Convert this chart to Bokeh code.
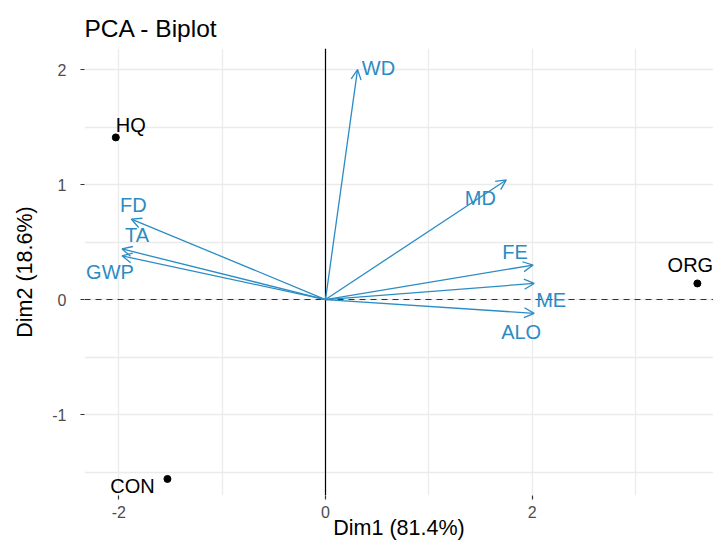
from bokeh.plotting import figure
from bokeh.models import ColumnDataSource, Arrow, OpenHead, Span, FixedTicker, Range1d
from bokeh.embed import file_html
from bokeh.resources import INLINE
from bokeh.core.properties import value

# ---- data ----
ind_names = ["HQ", "CON", "ORG"]
ind_dim1 = [-2.03, -1.53, 3.60]
ind_dim2 = [1.41, -1.56, 0.14]

var_names = ["WD", "MD", "FE", "ME", "ALO", "FD", "TA", "GWP"]
var_dim1 = [0.31, 1.75, 2.01, 2.02, 2.02, -1.88, -1.97, -1.97]
var_dim2 = [2.00, 1.04, 0.30, 0.14, -0.12, 0.70, 0.44, 0.38]

x_ticks = [-2, 0, 2]
y_ticks = [-1, 0, 1, 2]
x_grid = [-2, -1, 0, 1, 2, 3]
y_grid = [-1.5, -1, -0.5, 0, 0.5, 1, 1.5, 2]

title = "PCA - Biplot"
x_title = "Dim1 (81.4%)"
y_title = "Dim2 (18.6%)"

# ---- label pixel offsets (style; screen px, +y is down) ----
ind_off_x = [15, -35, -7]
ind_off_y = [-12, 7, -18]
var_off_x = [21, -26, -18, 17, -13, 2, 15, -12]
var_off_y = [-2, 18, -13, 17, 19, -14, -14, 16]

FONT = "Liberation Sans"
BLUE = "#2B8CC4"

p = figure(width=713, height=543, output_backend="svg", toolbar_location=None,
           x_range=Range1d(-2.333, 3.756), y_range=Range1d(-1.704, 2.183),
           min_border_left=84, min_border_right=0, min_border_top=48,
           min_border_bottom=48)
p.outline_line_color = None
p.background_fill_color = "white"

p.title.text = title
p.title.text_font = FONT
p.title.text_font_size = "24.5px"
p.title.text_font_style = "normal"
p.title.text_color = "black"
p.title.align = "left"
p.title.standoff = 14

for ax, ticks in ((p.xaxis[0], x_ticks), (p.yaxis[0], y_ticks)):
    ax.ticker = FixedTicker(ticks=ticks)
    ax.major_label_overrides = {t: ("-%d" % -t if t < 0 else "%d" % t) for t in ticks}
    ax.axis_line_color = None
    ax.major_tick_in = 0
    ax.major_tick_out = 4
    ax.major_tick_line_color = "#333333"
    ax.major_tick_line_width = 1.2
    ax.minor_tick_line_color = None
    ax.major_label_text_font = FONT
    ax.major_label_text_font_size = "16px"
    ax.major_label_text_color = "#4D4D4D"
    ax.axis_label_text_font = FONT
    ax.axis_label_text_font_size = "21.5px"
    ax.axis_label_text_font_style = "normal"
    ax.axis_label_text_color = "black"

p.xaxis.axis_label = x_title
p.yaxis.axis_label = y_title
p.xaxis.major_label_standoff = 6
p.xaxis.axis_label_standoff = -5
p.yaxis.major_label_standoff = 14
p.yaxis.axis_label_standoff = 12

p.xgrid.ticker = FixedTicker(ticks=x_grid)
p.ygrid.ticker = FixedTicker(ticks=y_grid)
for g in (p.xgrid[0], p.ygrid[0]):
    g.grid_line_color = "#EBEBEB"
    g.grid_line_width = 1.3

p.add_layout(Span(location=0, dimension="width", line_color="#333333",
                  line_width=1.1, line_dash="6 5", level="underlay"))
p.add_layout(Span(location=0, dimension="height", line_color="black",
                  line_width=1.2, level="underlay"))

vsrc = ColumnDataSource(dict(x=var_dim1, y=var_dim2, name=var_names,
                             x0=[0] * len(var_names), y0=[0] * len(var_names),
                             ox=var_off_x, oy=var_off_y))
p.add_layout(Arrow(source=vsrc, x_start="x0", y_start="y0", x_end="x", y_end="y",
                   line_color=BLUE, line_width=1.3,
                   end=OpenHead(size=10, line_color=BLUE, line_width=1.3)))
p.text(x="x", y="y", text="name", source=vsrc, x_offset="ox", y_offset="oy",
       text_color=BLUE, text_font=value(FONT), text_font_size="20px",
       text_align="center", text_baseline="middle")

isrc = ColumnDataSource(dict(x=ind_dim1, y=ind_dim2, name=ind_names,
                             ox=ind_off_x, oy=ind_off_y))
p.scatter(x="x", y="y", source=isrc, size=7, color="black")
p.text(x="x", y="y", text="name", source=isrc, x_offset="ox", y_offset="oy",
       text_color="black", text_font=value(FONT), text_font_size="20px",
       text_align="center", text_baseline="middle")

open("out.html", "w").write(file_html(p, INLINE))
